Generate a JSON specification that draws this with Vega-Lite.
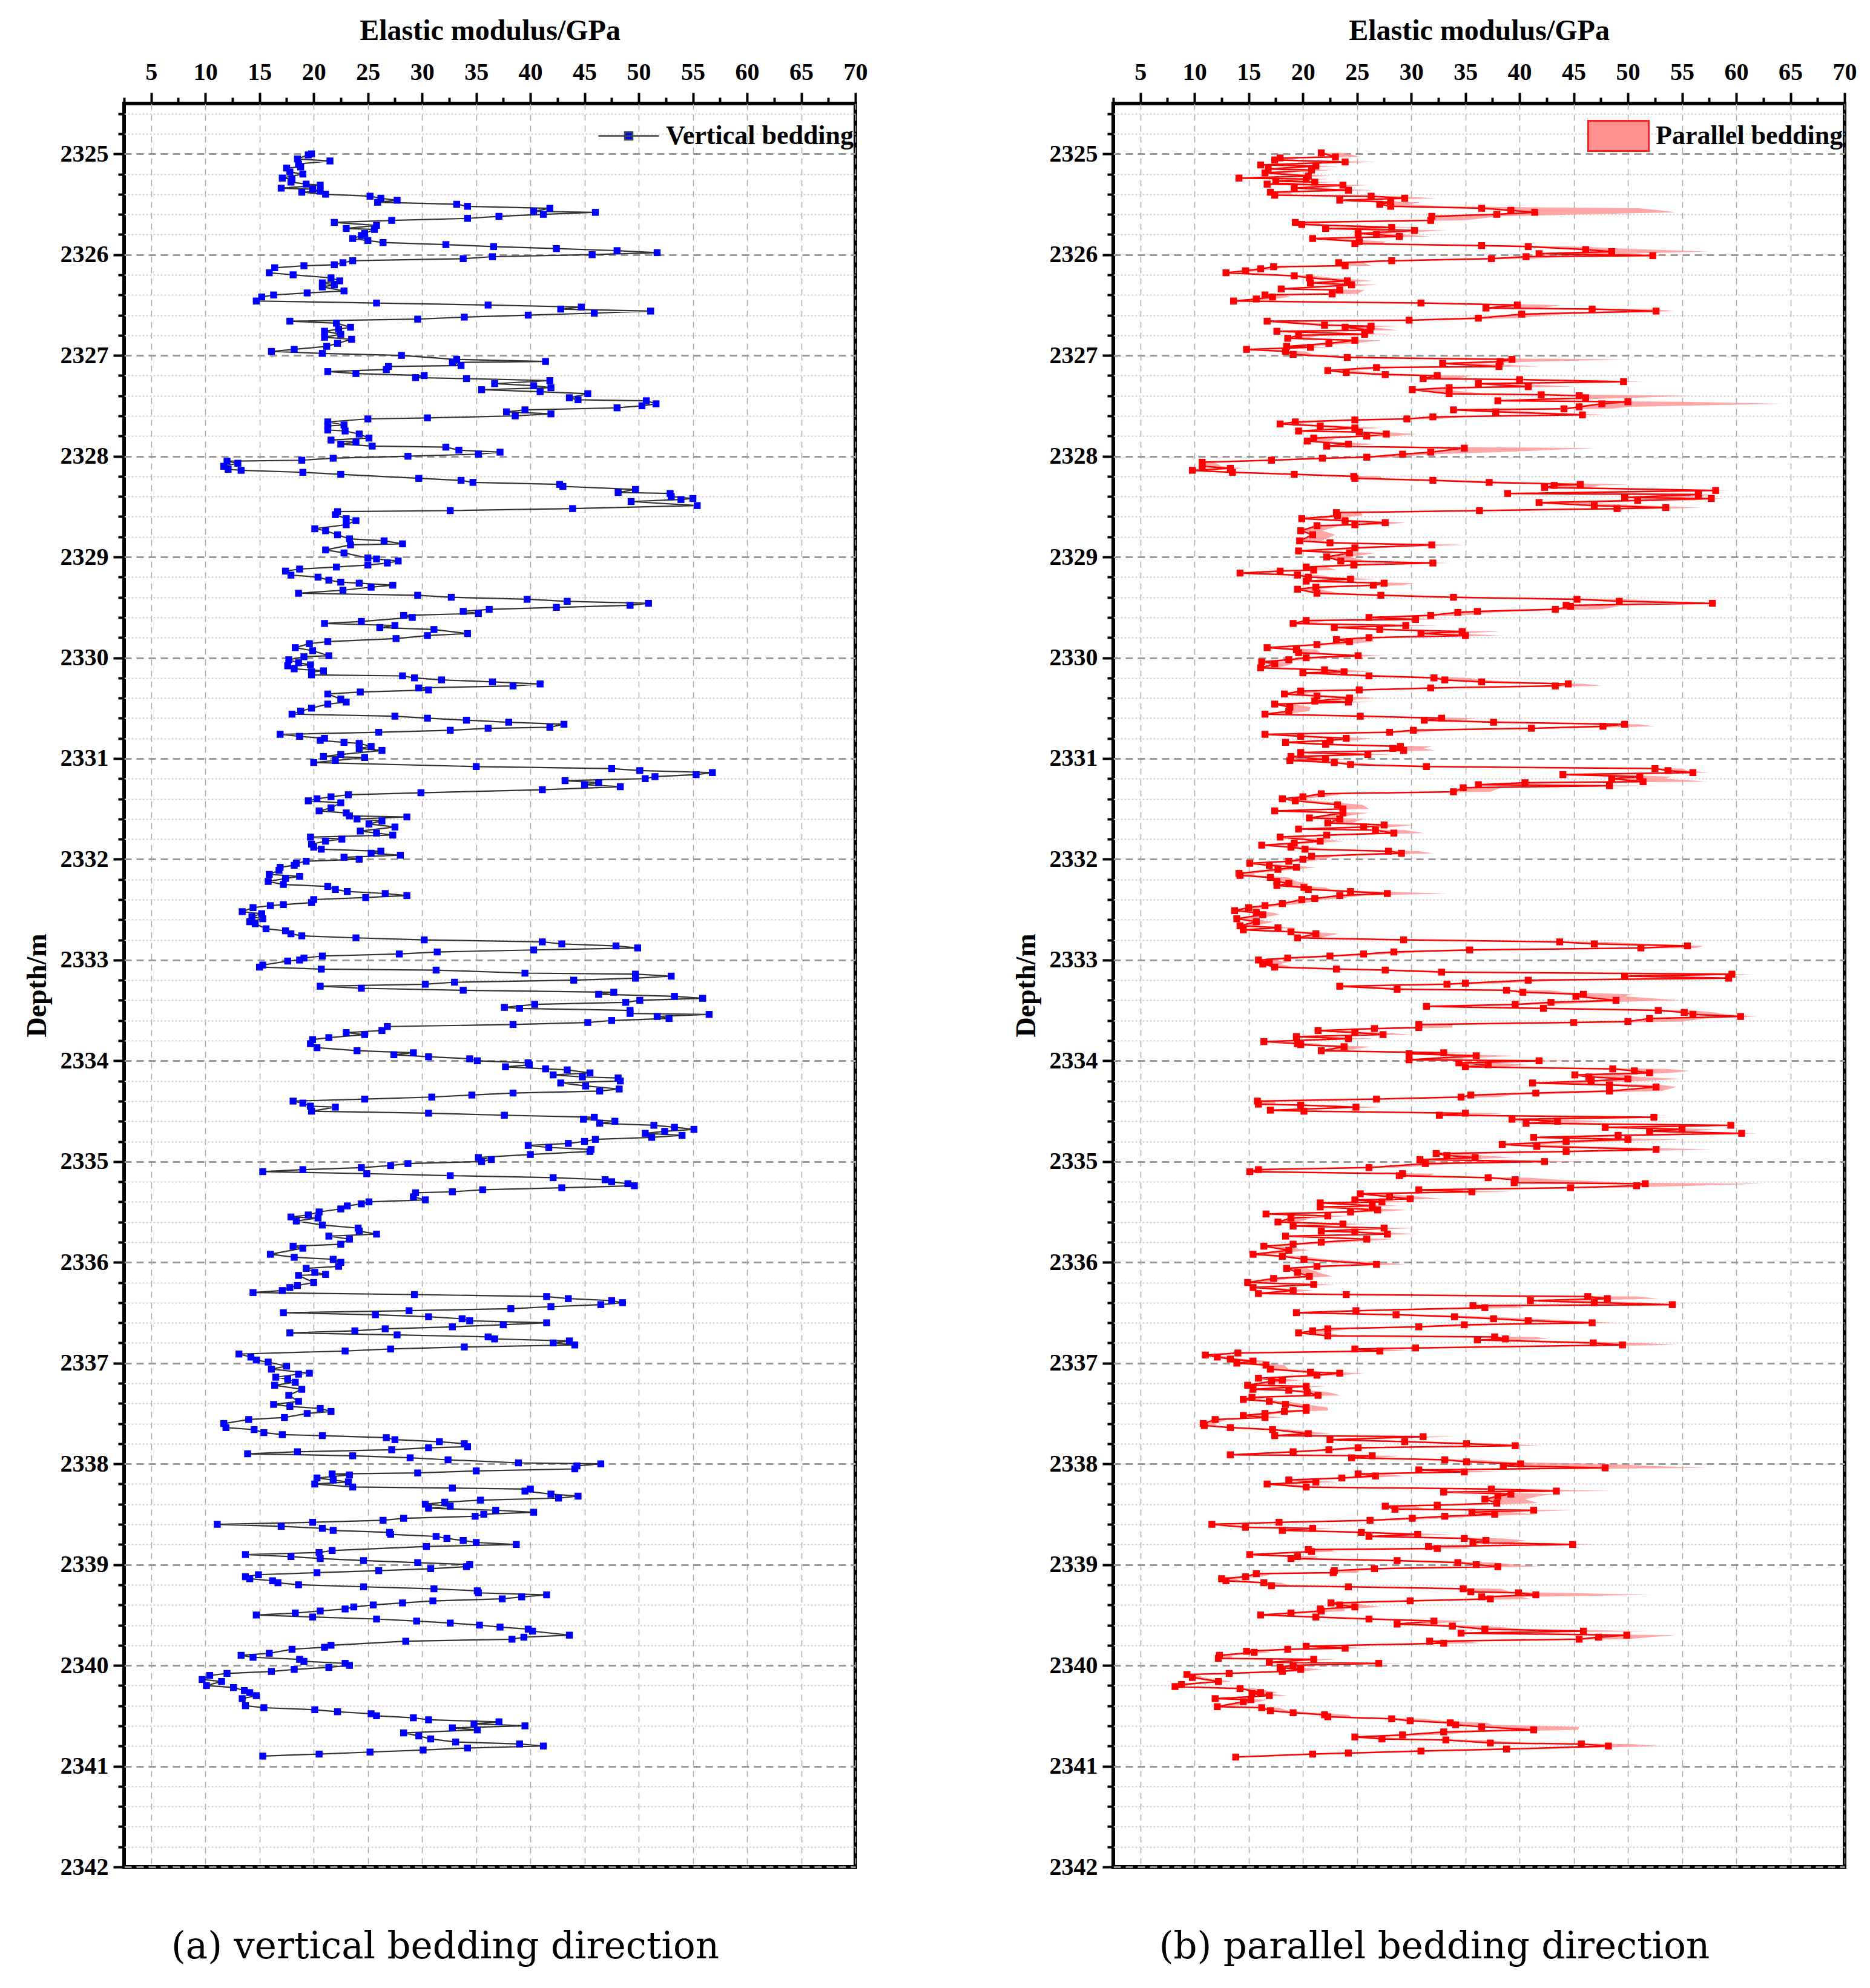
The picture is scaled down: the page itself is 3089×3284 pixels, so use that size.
{
  "$schema": "https://vega.github.io/schema/vega-lite/v6.json",
  "background": "white",
  "padding": {"left": 35, "top": 24, "right": 8, "bottom": 10},
  "spacing": 233,
  "resolve": {"scale": {"color": "independent"}, "legend": {"color": "independent"}},
  "datasets": {
    "va": [
      {"d":2325.00,"e":19.8},{"d":2325.01,"e":19.5},{"d":2325.05,"e":18.5},{"d":2325.07,"e":21.5},{"d":2325.10,"e":18.6},{"d":2325.13,"e":18.8},{"d":2325.14,"e":17.5},{"d":2325.18,"e":17.8},{"d":2325.20,"e":19.0},{"d":2325.24,"e":17.1},
      {"d":2325.25,"e":18.0},{"d":2325.28,"e":17.9},{"d":2325.30,"e":19.3},{"d":2325.31,"e":20.6},{"d":2325.34,"e":17.0},{"d":2325.35,"e":19.9},{"d":2325.37,"e":20.6},{"d":2325.38,"e":18.9},{"d":2325.40,"e":21.1},{"d":2325.42,"e":25.2},
      {"d":2325.44,"e":26.2},{"d":2325.46,"e":27.7},{"d":2325.48,"e":25.9},{"d":2325.50,"e":33.2},{"d":2325.52,"e":34.2},{"d":2325.54,"e":41.8},{"d":2325.57,"e":40.3},{"d":2325.58,"e":46.0},{"d":2325.60,"e":41.2},{"d":2325.62,"e":37.1},
      {"d":2325.64,"e":34.2},{"d":2325.66,"e":27.2},{"d":2325.68,"e":21.9},{"d":2325.71,"e":25.8},{"d":2325.74,"e":23.0},{"d":2325.75,"e":25.6},{"d":2325.79,"e":24.7},{"d":2325.81,"e":24.4},{"d":2325.84,"e":23.6},{"d":2325.86,"e":25.0},
      {"d":2325.88,"e":26.4},{"d":2325.90,"e":32.2},{"d":2325.92,"e":36.6},{"d":2325.94,"e":42.4},{"d":2325.96,"e":48.0},{"d":2325.98,"e":51.7},{"d":2326.00,"e":45.7},{"d":2326.02,"e":36.5},{"d":2326.04,"e":33.8},{"d":2326.06,"e":23.6},
      {"d":2326.08,"e":22.7},{"d":2326.10,"e":21.9},{"d":2326.11,"e":19.1},{"d":2326.13,"e":16.4},{"d":2326.18,"e":15.9},{"d":2326.20,"e":18.1},{"d":2326.23,"e":21.6},{"d":2326.26,"e":22.4},{"d":2326.28,"e":20.8},{"d":2326.30,"e":21.9},
      {"d":2326.32,"e":20.8},{"d":2326.36,"e":22.8},{"d":2326.38,"e":19.4},{"d":2326.40,"e":16.3},{"d":2326.42,"e":15.2},{"d":2326.46,"e":14.7},{"d":2326.48,"e":25.8},{"d":2326.50,"e":36.1},{"d":2326.52,"e":44.7},{"d":2326.54,"e":42.8},
      {"d":2326.56,"e":51.1},{"d":2326.58,"e":45.9},{"d":2326.60,"e":39.8},{"d":2326.62,"e":33.9},{"d":2326.64,"e":29.6},{"d":2326.66,"e":17.8},{"d":2326.68,"e":22.1},{"d":2326.72,"e":23.4},{"d":2326.74,"e":22.3},{"d":2326.76,"e":21.0},
      {"d":2326.79,"e":22.5},{"d":2326.82,"e":21.0},{"d":2326.84,"e":23.5},{"d":2326.88,"e":22.2},{"d":2326.91,"e":21.2},{"d":2326.94,"e":18.2},{"d":2326.96,"e":16.1},{"d":2326.98,"e":20.8},{"d":2327.00,"e":28.1},{"d":2327.04,"e":33.2},
      {"d":2327.06,"e":41.4},{"d":2327.07,"e":32.8},{"d":2327.10,"e":33.6},{"d":2327.11,"e":26.9},{"d":2327.14,"e":26.7},{"d":2327.16,"e":21.3},{"d":2327.18,"e":23.9},{"d":2327.20,"e":30.2},{"d":2327.22,"e":29.4},{"d":2327.23,"e":34.1},
      {"d":2327.25,"e":41.8},{"d":2327.28,"e":36.7},{"d":2327.30,"e":40.3},{"d":2327.32,"e":41.9},{"d":2327.34,"e":35.5},{"d":2327.36,"e":40.9},{"d":2327.38,"e":45.3},{"d":2327.42,"e":43.6},{"d":2327.44,"e":44.4},{"d":2327.45,"e":50.7},
      {"d":2327.48,"e":51.6},{"d":2327.50,"e":50.3},{"d":2327.52,"e":48.0},{"d":2327.54,"e":39.5},{"d":2327.56,"e":37.8},{"d":2327.58,"e":41.9},{"d":2327.60,"e":38.6},{"d":2327.62,"e":30.5},{"d":2327.63,"e":25.0},{"d":2327.66,"e":21.3},
      {"d":2327.69,"e":22.8},{"d":2327.70,"e":21.3},{"d":2327.74,"e":21.3},{"d":2327.75,"e":22.9},{"d":2327.78,"e":24.2},{"d":2327.82,"e":25.1},{"d":2327.84,"e":21.6},{"d":2327.86,"e":23.9},{"d":2327.88,"e":22.5},{"d":2327.90,"e":25.4},
      {"d":2327.91,"e":32.2},{"d":2327.94,"e":33.4},{"d":2327.96,"e":37.2},{"d":2327.98,"e":35.2},{"d":2328.00,"e":28.7},{"d":2328.02,"e":21.8},{"d":2328.04,"e":18.9},{"d":2328.05,"e":12.0},{"d":2328.07,"e":13.0},{"d":2328.10,"e":11.7},
      {"d":2328.13,"e":12.1},{"d":2328.14,"e":13.3},{"d":2328.16,"e":19.0},{"d":2328.18,"e":22.5},{"d":2328.22,"e":29.7},{"d":2328.24,"e":33.6},{"d":2328.26,"e":34.7},{"d":2328.28,"e":42.7},{"d":2328.30,"e":43.0},{"d":2328.33,"e":49.7},
      {"d":2328.36,"e":48.1},{"d":2328.37,"e":52.9},{"d":2328.40,"e":53.0},{"d":2328.42,"e":55.0},{"d":2328.43,"e":53.9},{"d":2328.45,"e":49.3},{"d":2328.49,"e":55.4},{"d":2328.52,"e":43.9},{"d":2328.54,"e":32.6},{"d":2328.55,"e":22.2},
      {"d":2328.58,"e":22.0},{"d":2328.62,"e":23.0},{"d":2328.64,"e":23.9},{"d":2328.68,"e":23.0},{"d":2328.72,"e":20.1},{"d":2328.74,"e":21.1},{"d":2328.78,"e":22.2},{"d":2328.82,"e":23.3},{"d":2328.84,"e":26.5},{"d":2328.87,"e":28.2},
      {"d":2328.88,"e":23.4},{"d":2328.93,"e":21.1},{"d":2328.96,"e":22.8},{"d":2329.01,"e":25.0},{"d":2329.02,"e":25.8},{"d":2329.04,"e":27.8},{"d":2329.06,"e":26.8},{"d":2329.08,"e":25.0},{"d":2329.10,"e":22.1},{"d":2329.12,"e":18.7},
      {"d":2329.14,"e":17.4},{"d":2329.18,"e":17.9},{"d":2329.20,"e":20.4},{"d":2329.23,"e":21.4},{"d":2329.25,"e":22.5},{"d":2329.26,"e":24.2},{"d":2329.28,"e":27.3},{"d":2329.30,"e":25.3},{"d":2329.33,"e":22.7},{"d":2329.36,"e":18.6},
      {"d":2329.38,"e":29.6},{"d":2329.40,"e":32.7},{"d":2329.42,"e":39.7},{"d":2329.44,"e":43.4},{"d":2329.46,"e":50.9},{"d":2329.48,"e":49.2},{"d":2329.50,"e":42.4},{"d":2329.52,"e":36.2},{"d":2329.54,"e":33.8},{"d":2329.56,"e":35.2},
      {"d":2329.58,"e":28.3},{"d":2329.60,"e":29.1},{"d":2329.64,"e":24.4},{"d":2329.66,"e":21.0},{"d":2329.68,"e":27.5},{"d":2329.70,"e":26.1},{"d":2329.72,"e":31.1},{"d":2329.76,"e":34.2},{"d":2329.78,"e":30.5},{"d":2329.81,"e":27.6},
      {"d":2329.84,"e":21.3},{"d":2329.86,"e":19.6},{"d":2329.90,"e":18.3},{"d":2329.93,"e":19.9},{"d":2329.98,"e":21.4},{"d":2329.99,"e":19.1},{"d":2330.02,"e":17.7},{"d":2330.05,"e":18.6},{"d":2330.07,"e":19.7},{"d":2330.08,"e":17.6},
      {"d":2330.11,"e":18.2},{"d":2330.13,"e":20.9},{"d":2330.14,"e":19.8},{"d":2330.17,"e":19.8},{"d":2330.18,"e":28.2},{"d":2330.20,"e":29.3},{"d":2330.22,"e":31.8},{"d":2330.24,"e":36.5},{"d":2330.26,"e":40.9},{"d":2330.28,"e":38.4},
      {"d":2330.30,"e":29.7},{"d":2330.32,"e":30.6},{"d":2330.34,"e":24.3},{"d":2330.36,"e":21.3},{"d":2330.41,"e":22.5},{"d":2330.44,"e":23.0},{"d":2330.46,"e":21.3},{"d":2330.50,"e":19.8},{"d":2330.53,"e":18.8},{"d":2330.56,"e":18.0},
      {"d":2330.58,"e":27.5},{"d":2330.60,"e":30.5},{"d":2330.62,"e":34.1},{"d":2330.64,"e":38.0},{"d":2330.66,"e":43.1},{"d":2330.69,"e":41.8},{"d":2330.70,"e":36.1},{"d":2330.72,"e":32.6},{"d":2330.74,"e":26.0},{"d":2330.76,"e":16.9},
      {"d":2330.78,"e":18.7},{"d":2330.80,"e":21.0},{"d":2330.82,"e":20.6},{"d":2330.84,"e":22.8},{"d":2330.85,"e":24.2},{"d":2330.88,"e":25.3},{"d":2330.90,"e":24.2},{"d":2330.92,"e":26.3},{"d":2330.96,"e":22.5},{"d":2330.98,"e":20.9},
      {"d":2330.99,"e":24.7},{"d":2331.02,"e":22.0},{"d":2331.04,"e":20.0},{"d":2331.08,"e":35.0},{"d":2331.10,"e":47.5},{"d":2331.12,"e":50.1},{"d":2331.14,"e":56.8},{"d":2331.16,"e":55.3},{"d":2331.18,"e":51.5},{"d":2331.20,"e":50.6},
      {"d":2331.22,"e":43.2},{"d":2331.24,"e":46.3},{"d":2331.26,"e":45.0},{"d":2331.28,"e":48.3},{"d":2331.31,"e":41.1},{"d":2331.34,"e":29.9},{"d":2331.36,"e":23.2},{"d":2331.38,"e":21.6},{"d":2331.40,"e":20.3},{"d":2331.42,"e":19.5},
      {"d":2331.44,"e":22.5},{"d":2331.49,"e":21.6},{"d":2331.52,"e":20.5},{"d":2331.54,"e":23.0},{"d":2331.57,"e":23.3},{"d":2331.58,"e":28.6},{"d":2331.60,"e":24.0},{"d":2331.62,"e":26.3},{"d":2331.65,"e":25.1},{"d":2331.68,"e":27.5},
      {"d":2331.72,"e":24.3},{"d":2331.74,"e":25.8},{"d":2331.76,"e":27.3},{"d":2331.78,"e":19.7},{"d":2331.80,"e":22.6},{"d":2331.82,"e":21.1},{"d":2331.85,"e":19.8},{"d":2331.88,"e":20.0},{"d":2331.90,"e":20.7},{"d":2331.92,"e":26.2},
      {"d":2331.94,"e":25.3},{"d":2331.96,"e":28.0},{"d":2331.98,"e":22.8},{"d":2332.00,"e":24.2},{"d":2332.02,"e":19.3},{"d":2332.04,"e":18.4},{"d":2332.06,"e":18.2},{"d":2332.08,"e":16.9},{"d":2332.11,"e":16.8},{"d":2332.15,"e":15.9},
      {"d":2332.17,"e":18.7},{"d":2332.19,"e":17.4},{"d":2332.22,"e":15.8},{"d":2332.25,"e":17.2},{"d":2332.27,"e":21.3},{"d":2332.30,"e":22.0},{"d":2332.32,"e":23.1},{"d":2332.34,"e":26.6},{"d":2332.36,"e":28.6},{"d":2332.38,"e":24.8},
      {"d":2332.40,"e":20.0},{"d":2332.43,"e":19.8},{"d":2332.45,"e":17.2},{"d":2332.46,"e":16.0},{"d":2332.48,"e":14.4},{"d":2332.52,"e":13.4},{"d":2332.54,"e":15.2},{"d":2332.57,"e":14.3},{"d":2332.59,"e":15.3},{"d":2332.62,"e":14.1},
      {"d":2332.64,"e":14.6},{"d":2332.69,"e":15.6},{"d":2332.71,"e":17.4},{"d":2332.74,"e":17.9},{"d":2332.76,"e":18.9},{"d":2332.78,"e":23.9},{"d":2332.80,"e":30.2},{"d":2332.82,"e":41.1},{"d":2332.84,"e":42.9},{"d":2332.86,"e":47.9},
      {"d":2332.88,"e":49.9},{"d":2332.90,"e":40.3},{"d":2332.92,"e":31.4},{"d":2332.94,"e":27.9},{"d":2332.96,"e":20.8},{"d":2332.98,"e":19.1},{"d":2333.00,"e":18.7},{"d":2333.01,"e":17.6},{"d":2333.05,"e":15.3},{"d":2333.07,"e":15.0},
      {"d":2333.09,"e":20.7},{"d":2333.10,"e":31.3},{"d":2333.13,"e":39.5},{"d":2333.14,"e":49.7},{"d":2333.16,"e":53.0},{"d":2333.18,"e":49.7},{"d":2333.20,"e":44.0},{"d":2333.22,"e":33.0},{"d":2333.24,"e":30.3},{"d":2333.26,"e":20.6},
      {"d":2333.28,"e":24.4},{"d":2333.30,"e":33.8},{"d":2333.32,"e":47.7},{"d":2333.34,"e":46.3},{"d":2333.36,"e":53.3},{"d":2333.38,"e":55.9},{"d":2333.40,"e":50.1},{"d":2333.42,"e":48.8},{"d":2333.44,"e":40.4},{"d":2333.47,"e":37.6},
      {"d":2333.48,"e":39.0},{"d":2333.50,"e":49.2},{"d":2333.53,"e":49.2},{"d":2333.54,"e":56.5},{"d":2333.56,"e":51.7},{"d":2333.58,"e":52.8},{"d":2333.60,"e":47.5},{"d":2333.62,"e":45.3},{"d":2333.64,"e":38.4},{"d":2333.66,"e":26.8},
      {"d":2333.70,"e":26.3},{"d":2333.72,"e":23.0},{"d":2333.74,"e":24.7},{"d":2333.77,"e":21.4},{"d":2333.79,"e":19.9},{"d":2333.83,"e":19.7},{"d":2333.87,"e":20.3},{"d":2333.90,"e":24.0},{"d":2333.92,"e":29.2},{"d":2333.94,"e":27.4},
      {"d":2333.96,"e":30.6},{"d":2333.98,"e":34.4},{"d":2334.00,"e":35.1},{"d":2334.02,"e":39.8},{"d":2334.04,"e":39.9},{"d":2334.06,"e":37.7},{"d":2334.08,"e":41.4},{"d":2334.09,"e":43.4},{"d":2334.12,"e":45.5},{"d":2334.14,"e":42.1},
      {"d":2334.16,"e":44.8},{"d":2334.17,"e":48.1},{"d":2334.20,"e":48.3},{"d":2334.22,"e":42.8},{"d":2334.25,"e":45.1},{"d":2334.28,"e":48.2},{"d":2334.30,"e":46.4},{"d":2334.32,"e":38.4},{"d":2334.34,"e":34.6},{"d":2334.36,"e":30.9},
      {"d":2334.38,"e":24.7},{"d":2334.40,"e":18.1},{"d":2334.42,"e":19.0},{"d":2334.45,"e":19.7},{"d":2334.46,"e":22.0},{"d":2334.50,"e":19.8},{"d":2334.52,"e":30.6},{"d":2334.54,"e":37.6},{"d":2334.56,"e":45.9},{"d":2334.58,"e":44.9},
      {"d":2334.60,"e":47.8},{"d":2334.62,"e":46.4},{"d":2334.64,"e":51.4},{"d":2334.66,"e":53.3},{"d":2334.68,"e":55.1},{"d":2334.70,"e":52.4},{"d":2334.72,"e":50.6},{"d":2334.74,"e":54.0},{"d":2334.76,"e":51.2},{"d":2334.78,"e":46.0},
      {"d":2334.80,"e":45.0},{"d":2334.82,"e":43.5},{"d":2334.84,"e":39.8},{"d":2334.86,"e":41.7},{"d":2334.88,"e":45.6},{"d":2334.90,"e":45.5},{"d":2334.93,"e":40.0},{"d":2334.96,"e":35.2},{"d":2334.98,"e":36.4},{"d":2335.00,"e":35.5},
      {"d":2335.02,"e":28.7},{"d":2335.04,"e":27.1},{"d":2335.06,"e":24.4},{"d":2335.08,"e":19.0},{"d":2335.10,"e":15.3},{"d":2335.12,"e":24.9},{"d":2335.14,"e":32.6},{"d":2335.16,"e":42.1},{"d":2335.18,"e":46.9},{"d":2335.20,"e":47.5},
      {"d":2335.22,"e":49.0},{"d":2335.24,"e":49.6},{"d":2335.26,"e":42.9},{"d":2335.28,"e":35.6},{"d":2335.30,"e":32.8},{"d":2335.31,"e":29.4},{"d":2335.35,"e":29.2},{"d":2335.38,"e":30.3},{"d":2335.40,"e":25.1},{"d":2335.42,"e":24.4},
      {"d":2335.44,"e":23.1},{"d":2335.47,"e":22.5},{"d":2335.50,"e":20.5},{"d":2335.53,"e":19.5},{"d":2335.55,"e":17.9},{"d":2335.56,"e":20.4},{"d":2335.59,"e":18.4},{"d":2335.63,"e":20.8},{"d":2335.66,"e":24.1},{"d":2335.69,"e":24.2},
      {"d":2335.72,"e":25.8},{"d":2335.74,"e":21.4},{"d":2335.77,"e":23.3},{"d":2335.82,"e":22.5},{"d":2335.84,"e":18.1},{"d":2335.86,"e":19.0},{"d":2335.92,"e":16.0},{"d":2335.95,"e":18.2},{"d":2335.97,"e":21.8},{"d":2336.00,"e":22.5},
      {"d":2336.04,"e":22.3},{"d":2336.06,"e":19.3},{"d":2336.10,"e":20.1},{"d":2336.12,"e":21.1},{"d":2336.13,"e":18.6},{"d":2336.20,"e":20.0},{"d":2336.23,"e":18.5},{"d":2336.25,"e":17.8},{"d":2336.28,"e":17.1},{"d":2336.30,"e":14.4},
      {"d":2336.32,"e":29.3},{"d":2336.34,"e":41.5},{"d":2336.36,"e":43.5},{"d":2336.38,"e":47.5},{"d":2336.40,"e":48.5},{"d":2336.42,"e":46.5},{"d":2336.44,"e":41.9},{"d":2336.46,"e":38.2},{"d":2336.48,"e":28.8},{"d":2336.50,"e":17.2},
      {"d":2336.52,"e":25.7},{"d":2336.54,"e":30.6},{"d":2336.56,"e":33.7},{"d":2336.58,"e":34.4},{"d":2336.60,"e":41.5},{"d":2336.62,"e":37.5},{"d":2336.64,"e":32.8},{"d":2336.66,"e":26.6},{"d":2336.68,"e":23.8},{"d":2336.70,"e":17.8},
      {"d":2336.72,"e":27.7},{"d":2336.74,"e":36.1},{"d":2336.76,"e":36.7},{"d":2336.78,"e":43.6},{"d":2336.80,"e":42.1},{"d":2336.82,"e":44.1},{"d":2336.84,"e":33.9},{"d":2336.86,"e":27.1},{"d":2336.88,"e":22.9},{"d":2336.91,"e":13.1},
      {"d":2336.94,"e":14.2},{"d":2336.97,"e":14.7},{"d":2336.99,"e":15.8},{"d":2337.03,"e":17.5},{"d":2337.06,"e":16.1},{"d":2337.10,"e":19.6},{"d":2337.11,"e":18.6},{"d":2337.14,"e":16.5},{"d":2337.16,"e":17.6},{"d":2337.19,"e":18.3},
      {"d":2337.22,"e":16.4},{"d":2337.26,"e":18.9},{"d":2337.32,"e":17.7},{"d":2337.38,"e":18.6},{"d":2337.41,"e":16.3},{"d":2337.43,"e":17.8},{"d":2337.45,"e":20.6},{"d":2337.48,"e":21.6},{"d":2337.50,"e":19.4},{"d":2337.54,"e":17.3},
      {"d":2337.56,"e":14.0},{"d":2337.60,"e":11.7},{"d":2337.64,"e":11.9},{"d":2337.66,"e":14.5},{"d":2337.69,"e":15.4},{"d":2337.71,"e":17.1},{"d":2337.72,"e":20.8},{"d":2337.74,"e":26.7},{"d":2337.76,"e":27.5},{"d":2337.78,"e":31.6},
      {"d":2337.80,"e":33.9},{"d":2337.83,"e":34.2},{"d":2337.84,"e":30.6},{"d":2337.86,"e":27.2},{"d":2337.88,"e":18.5},{"d":2337.90,"e":13.9},{"d":2337.92,"e":23.6},{"d":2337.94,"e":28.9},{"d":2337.96,"e":32.4},{"d":2337.99,"e":38.9},
      {"d":2338.00,"e":46.5},{"d":2338.02,"e":44.3},{"d":2338.05,"e":44.1},{"d":2338.07,"e":35.0},{"d":2338.09,"e":29.6},{"d":2338.10,"e":21.7},{"d":2338.11,"e":23.3},{"d":2338.14,"e":20.3},{"d":2338.16,"e":21.8},{"d":2338.18,"e":23.2},
      {"d":2338.20,"e":20.1},{"d":2338.23,"e":23.6},{"d":2338.24,"e":32.8},{"d":2338.25,"e":40.0},{"d":2338.27,"e":39.5},{"d":2338.30,"e":41.9},{"d":2338.32,"e":44.4},{"d":2338.34,"e":42.6},{"d":2338.36,"e":35.4},{"d":2338.38,"e":32.1},
      {"d":2338.40,"e":30.3},{"d":2338.42,"e":32.6},{"d":2338.44,"e":30.6},{"d":2338.46,"e":36.8},{"d":2338.48,"e":40.3},{"d":2338.50,"e":35.7},{"d":2338.52,"e":34.9},{"d":2338.54,"e":28.3},{"d":2338.56,"e":26.4},{"d":2338.58,"e":19.9},
      {"d":2338.60,"e":11.1},{"d":2338.62,"e":17.0},{"d":2338.64,"e":20.8},{"d":2338.66,"e":21.8},{"d":2338.68,"e":27.0},{"d":2338.70,"e":27.1},{"d":2338.72,"e":31.3},{"d":2338.74,"e":32.3},{"d":2338.76,"e":33.8},{"d":2338.78,"e":35.0},
      {"d":2338.80,"e":38.7},{"d":2338.82,"e":30.4},{"d":2338.86,"e":21.7},{"d":2338.88,"e":20.5},{"d":2338.90,"e":13.7},{"d":2338.92,"e":17.9},{"d":2338.94,"e":20.6},{"d":2338.96,"e":24.6},{"d":2338.98,"e":29.6},{"d":2339.00,"e":34.4},
      {"d":2339.02,"e":34.1},{"d":2339.04,"e":30.8},{"d":2339.06,"e":26.0},{"d":2339.08,"e":20.3},{"d":2339.10,"e":14.9},{"d":2339.12,"e":13.7},{"d":2339.14,"e":14.1},{"d":2339.16,"e":16.2},{"d":2339.18,"e":16.7},{"d":2339.20,"e":18.6},
      {"d":2339.22,"e":24.6},{"d":2339.24,"e":31.1},{"d":2339.26,"e":35.1},{"d":2339.28,"e":35.2},{"d":2339.30,"e":41.5},{"d":2339.32,"e":39.2},{"d":2339.34,"e":37.4},{"d":2339.36,"e":31.0},{"d":2339.38,"e":28.2},{"d":2339.40,"e":25.5},
      {"d":2339.42,"e":23.7},{"d":2339.44,"e":22.9},{"d":2339.46,"e":20.6},{"d":2339.48,"e":18.3},{"d":2339.50,"e":14.7},{"d":2339.52,"e":19.9},{"d":2339.54,"e":25.8},{"d":2339.56,"e":29.5},{"d":2339.58,"e":32.6},{"d":2339.60,"e":35.3},
      {"d":2339.62,"e":37.2},{"d":2339.64,"e":39.8},{"d":2339.66,"e":40.2},{"d":2339.70,"e":43.6},{"d":2339.72,"e":39.4},{"d":2339.74,"e":38.3},{"d":2339.76,"e":28.5},{"d":2339.80,"e":21.6},{"d":2339.82,"e":21.0},{"d":2339.84,"e":18.0},
      {"d":2339.88,"e":15.9},{"d":2339.90,"e":13.3},{"d":2339.92,"e":14.4},{"d":2339.94,"e":18.7},{"d":2339.96,"e":19.1},{"d":2339.98,"e":22.9},{"d":2340.00,"e":23.3},{"d":2340.02,"e":21.4},{"d":2340.04,"e":18.2},{"d":2340.06,"e":16.1},
      {"d":2340.08,"e":12.0},{"d":2340.10,"e":10.4},{"d":2340.14,"e":9.7},{"d":2340.16,"e":11.5},{"d":2340.20,"e":10.1},{"d":2340.22,"e":12.6},{"d":2340.25,"e":13.6},{"d":2340.27,"e":14.1},{"d":2340.30,"e":14.7},{"d":2340.33,"e":13.4},
      {"d":2340.40,"e":13.7},{"d":2340.42,"e":15.4},{"d":2340.44,"e":20.1},{"d":2340.46,"e":22.2},{"d":2340.48,"e":25.3},{"d":2340.50,"e":25.8},{"d":2340.52,"e":29.2},{"d":2340.54,"e":30.6},{"d":2340.56,"e":37.1},{"d":2340.58,"e":34.8},
      {"d":2340.60,"e":39.5},{"d":2340.62,"e":32.8},{"d":2340.64,"e":35.1},{"d":2340.67,"e":28.3},{"d":2340.70,"e":29.7},{"d":2340.73,"e":30.8},{"d":2340.76,"e":33.1},{"d":2340.78,"e":39.0},{"d":2340.80,"e":41.2},{"d":2340.82,"e":34.2},
      {"d":2340.84,"e":30.1},{"d":2340.86,"e":25.2},{"d":2340.88,"e":20.5},{"d":2340.90,"e":15.3}
    ],
    "vb": [
      {"d":2324.99,"e":21.7,"u":23.9},{"d":2325.03,"e":23.0,"u":25.3},{"d":2325.04,"e":17.9,"u":19.7},{"d":2325.06,"e":17.4,"u":19.1},{"d":2325.08,"e":23.9,"u":26.8},{"d":2325.11,"e":16.1,"u":17.7},{"d":2325.12,"e":21.2,"u":23.3},{"d":2325.15,"e":16.8,"u":18.5},{"d":2325.16,"e":20.8,"u":22.9},{"d":2325.19,"e":16.5,"u":18.2},
      {"d":2325.22,"e":20.5,"u":22.6},{"d":2325.24,"e":14.1,"u":15.5},{"d":2325.25,"e":20.3,"u":22.3},{"d":2325.27,"e":17.5,"u":19.3},{"d":2325.28,"e":21.1,"u":23.2},{"d":2325.30,"e":16.7,"u":18.4},{"d":2325.31,"e":23.7,"u":26.1},{"d":2325.34,"e":19.2,"u":21.1},{"d":2325.36,"e":24.2,"u":26.6},{"d":2325.38,"e":17.0,"u":18.7},
      {"d":2325.41,"e":17.4,"u":19.1},{"d":2325.42,"e":26.3,"u":28.9},{"d":2325.44,"e":29.4,"u":32.3},{"d":2325.46,"e":23.4,"u":25.7},{"d":2325.48,"e":28.1,"u":30.9},{"d":2325.50,"e":27.1,"u":29.8},{"d":2325.52,"e":28.1,"u":33.0},{"d":2325.54,"e":36.5,"u":51.0},{"d":2325.56,"e":39.2,"u":53.0},{"d":2325.58,"e":41.4,"u":54.4},
      {"d":2325.60,"e":37.9,"u":46.0},{"d":2325.62,"e":31.9,"u":38.0},{"d":2325.66,"e":31.8,"u":35.0},{"d":2325.68,"e":19.3,"u":21.2},{"d":2325.70,"e":19.9,"u":21.9},{"d":2325.73,"e":28.2,"u":31.0},{"d":2325.74,"e":22.1,"u":24.3},{"d":2325.76,"e":30.3,"u":33.3},{"d":2325.79,"e":25.1,"u":27.6},{"d":2325.80,"e":26.8,"u":29.5},
      {"d":2325.82,"e":28.9,"u":31.8},{"d":2325.84,"e":20.9,"u":23.0},{"d":2325.87,"e":25.2,"u":27.7},{"d":2325.89,"e":24.8,"u":27.3},{"d":2325.91,"e":36.5,"u":40.2},{"d":2325.92,"e":40.8,"u":44.9},{"d":2325.95,"e":46.1,"u":52.0},{"d":2325.97,"e":48.5,"u":57.4},{"d":2325.99,"e":41.8,"u":50.0},{"d":2326.01,"e":52.3,"u":54.0},
      {"d":2326.02,"e":40.6,"u":44.7},{"d":2326.04,"e":37.4,"u":41.1},{"d":2326.06,"e":28.2,"u":31.0},{"d":2326.08,"e":23.3,"u":25.6},{"d":2326.11,"e":23.9,"u":26.3},{"d":2326.12,"e":17.3,"u":19.0},{"d":2326.14,"e":16.1,"u":17.7},{"d":2326.16,"e":14.7,"u":16.2},{"d":2326.18,"e":12.9,"u":14.2},{"d":2326.21,"e":19.2,"u":21.1},
      {"d":2326.23,"e":20.6,"u":22.7},{"d":2326.26,"e":24.1,"u":26.5},{"d":2326.28,"e":20.7,"u":22.8},{"d":2326.30,"e":24.5,"u":26.9},{"d":2326.34,"e":18.0,"u":19.8},{"d":2326.35,"e":23.4,"u":25.7},{"d":2326.39,"e":22.7,"u":25.0},{"d":2326.40,"e":16.5,"u":18.2},{"d":2326.42,"e":17.2,"u":18.9},{"d":2326.44,"e":15.7,"u":17.3},
      {"d":2326.46,"e":13.6,"u":15.0},{"d":2326.48,"e":30.9,"u":34.0},{"d":2326.50,"e":39.8,"u":43.8},{"d":2326.53,"e":36.9,"u":42.0},{"d":2326.54,"e":46.7,"u":52.5},{"d":2326.56,"e":52.6,"u":54.2},{"d":2326.59,"e":40.2,"u":44.2},{"d":2326.63,"e":36.2,"u":39.8},{"d":2326.65,"e":29.8,"u":32.8},{"d":2326.66,"e":16.7,"u":18.4},
      {"d":2326.70,"e":22.0,"u":24.2},{"d":2326.71,"e":26.3,"u":28.9},{"d":2326.72,"e":23.9,"u":26.3},{"d":2326.75,"e":26.2,"u":28.8},{"d":2326.76,"e":17.6,"u":19.4},{"d":2326.79,"e":25.7,"u":28.3},{"d":2326.80,"e":19.6,"u":21.6},{"d":2326.83,"e":18.6,"u":20.5},{"d":2326.85,"e":24.8,"u":27.3},{"d":2326.88,"e":22.4,"u":24.6},
      {"d":2326.91,"e":18.5,"u":20.4},{"d":2326.92,"e":20.7,"u":22.8},{"d":2326.94,"e":14.8,"u":16.3},{"d":2326.96,"e":18.4,"u":20.2},{"d":2326.99,"e":19.1,"u":21.0},{"d":2327.02,"e":24.1,"u":26.5},{"d":2327.04,"e":39.3,"u":50.0},{"d":2327.06,"e":38.2,"u":42.0},{"d":2327.08,"e":32.9,"u":36.2},{"d":2327.11,"e":38.1,"u":41.9},
      {"d":2327.12,"e":26.8,"u":29.5},{"d":2327.15,"e":22.3,"u":24.5},{"d":2327.17,"e":24.0,"u":26.4},{"d":2327.19,"e":27.6,"u":30.4},{"d":2327.20,"e":32.4,"u":35.6},{"d":2327.23,"e":31.1,"u":34.2},{"d":2327.24,"e":40.0,"u":44.0},{"d":2327.26,"e":49.6,"u":51.5},{"d":2327.28,"e":36.2,"u":39.8},{"d":2327.31,"e":40.8,"u":44.9},
      {"d":2327.32,"e":33.5,"u":36.9},{"d":2327.34,"e":30.1,"u":33.1},{"d":2327.38,"e":33.5,"u":36.9},{"d":2327.39,"e":42.0,"u":46.2},{"d":2327.40,"e":45.5,"u":56.0},{"d":2327.42,"e":46.1,"u":50.7},{"d":2327.45,"e":38.0,"u":41.8},{"d":2327.46,"e":50.0,"u":55.0},{"d":2327.48,"e":47.6,"u":64.2},{"d":2327.51,"e":45.5,"u":50.1},
      {"d":2327.53,"e":44.1,"u":48.5},{"d":2327.54,"e":33.9,"u":37.3},{"d":2327.56,"e":37.8,"u":41.6},{"d":2327.59,"e":45.8,"u":48.0},{"d":2327.61,"e":32.0,"u":35.2},{"d":2327.63,"e":29.6,"u":32.6},{"d":2327.64,"e":24.8,"u":27.3},{"d":2327.66,"e":19.3,"u":21.2},{"d":2327.68,"e":17.9,"u":19.7},{"d":2327.70,"e":21.6,"u":23.8},
      {"d":2327.72,"e":24.8,"u":27.3},{"d":2327.75,"e":19.6,"u":21.6},{"d":2327.76,"e":25.2,"u":27.7},{"d":2327.78,"e":27.7,"u":30.5},{"d":2327.80,"e":25.9,"u":28.5},{"d":2327.82,"e":21.0,"u":23.1},{"d":2327.85,"e":20.4,"u":22.4},{"d":2327.88,"e":24.2,"u":26.6},{"d":2327.90,"e":22.2,"u":24.4},{"d":2327.92,"e":34.9,"u":47.0},
      {"d":2327.96,"e":31.8,"u":38.0},{"d":2327.98,"e":29.2,"u":32.1},{"d":2328.01,"e":25.9,"u":28.5},{"d":2328.02,"e":21.8,"u":24.0},{"d":2328.04,"e":17.1,"u":18.8},{"d":2328.06,"e":10.7,"u":11.8},{"d":2328.10,"e":10.7,"u":12.5},{"d":2328.12,"e":13.3,"u":14.6},{"d":2328.14,"e":9.8,"u":10.8},{"d":2328.16,"e":13.5,"u":14.9},
      {"d":2328.18,"e":19.2,"u":21.1},{"d":2328.20,"e":24.7,"u":27.2},{"d":2328.22,"e":24.8,"u":27.3},{"d":2328.24,"e":32.0,"u":35.2},{"d":2328.26,"e":37.2,"u":40.9},{"d":2328.28,"e":45.6,"u":50.2},{"d":2328.29,"e":43.2,"u":47.5},{"d":2328.31,"e":42.3,"u":46.5},{"d":2328.34,"e":58.1,"u":59.3},{"d":2328.37,"e":38.9,"u":45.0},
      {"d":2328.38,"e":56.5,"u":58.5},{"d":2328.41,"e":49.7,"u":54.7},{"d":2328.42,"e":57.7,"u":58.8},{"d":2328.44,"e":50.9,"u":56.0},{"d":2328.46,"e":41.8,"u":46.0},{"d":2328.49,"e":46.9,"u":51.6},{"d":2328.51,"e":53.5,"u":56.7},{"d":2328.52,"e":49.0,"u":53.9},{"d":2328.54,"e":36.3,"u":39.9},{"d":2328.56,"e":23.1,"u":25.4},
      {"d":2328.59,"e":23.2,"u":25.5},{"d":2328.62,"e":19.9,"u":21.9},{"d":2328.64,"e":23.9,"u":26.3},{"d":2328.66,"e":27.6,"u":29.5},{"d":2328.68,"e":24.8,"u":27.3},{"d":2328.69,"e":21.3,"u":23.4},{"d":2328.74,"e":19.8,"u":21.8},{"d":2328.78,"e":20.9,"u":23.0},{"d":2328.84,"e":19.7,"u":21.7},{"d":2328.86,"e":22.5,"u":24.8},
      {"d":2328.88,"e":31.9,"u":35.1},{"d":2328.91,"e":24.8,"u":27.3},{"d":2328.94,"e":19.6,"u":21.6},{"d":2328.96,"e":24.3,"u":26.7},{"d":2329.00,"e":22.2,"u":24.4},{"d":2329.04,"e":23.5,"u":25.9},{"d":2329.06,"e":32.0,"u":33.6},{"d":2329.08,"e":24.7,"u":27.2},{"d":2329.10,"e":20.3,"u":22.3},{"d":2329.13,"e":21.0,"u":23.1},
      {"d":2329.14,"e":17.9,"u":19.7},{"d":2329.16,"e":14.2,"u":15.6},{"d":2329.18,"e":19.5,"u":21.5},{"d":2329.20,"e":20.5,"u":22.6},{"d":2329.22,"e":24.4,"u":26.8},{"d":2329.24,"e":20.3,"u":22.3},{"d":2329.26,"e":27.5,"u":30.3},{"d":2329.28,"e":26.5,"u":29.2},{"d":2329.30,"e":21.2,"u":23.3},{"d":2329.32,"e":19.5,"u":21.5},
      {"d":2329.36,"e":21.3,"u":23.4},{"d":2329.38,"e":27.2,"u":29.9},{"d":2329.40,"e":33.9,"u":37.3},{"d":2329.42,"e":45.3,"u":49.8},{"d":2329.44,"e":49.2,"u":54.1},{"d":2329.46,"e":57.8,"u":58.5},{"d":2329.48,"e":44.3,"u":48.7},{"d":2329.49,"e":44.7,"u":49.2},{"d":2329.52,"e":43.3,"u":47.6},{"d":2329.54,"e":36.1,"u":39.7},
      {"d":2329.55,"e":34.3,"u":37.7},{"d":2329.58,"e":31.8,"u":35.0},{"d":2329.60,"e":26.1,"u":28.7},{"d":2329.62,"e":30.4,"u":33.4},{"d":2329.63,"e":20.3,"u":22.3},{"d":2329.66,"e":19.1,"u":21.0},{"d":2329.68,"e":29.5,"u":32.5},{"d":2329.70,"e":22.9,"u":25.2},{"d":2329.72,"e":27.1,"u":29.8},{"d":2329.74,"e":34.7,"u":38.2},
      {"d":2329.76,"e":30.9,"u":34.0},{"d":2329.78,"e":35.0,"u":38.5},{"d":2329.80,"e":26.1,"u":28.7},{"d":2329.82,"e":23.1,"u":25.4},{"d":2329.84,"e":24.3,"u":26.7},{"d":2329.87,"e":21.3,"u":23.4},{"d":2329.90,"e":16.7,"u":18.4},{"d":2329.92,"e":19.4,"u":21.3},{"d":2329.95,"e":19.6,"u":21.6},{"d":2329.98,"e":25.1,"u":27.6},
      {"d":2330.00,"e":20.3,"u":22.3},{"d":2330.02,"e":18.7,"u":20.6},{"d":2330.04,"e":16.2,"u":17.8},{"d":2330.06,"e":17.4,"u":19.1},{"d":2330.10,"e":16.1,"u":17.7},{"d":2330.12,"e":22.0,"u":24.2},{"d":2330.14,"e":23.8,"u":26.2},{"d":2330.15,"e":20.0,"u":22.0},{"d":2330.18,"e":26.1,"u":28.7},{"d":2330.20,"e":32.1,"u":35.3},
      {"d":2330.22,"e":33.1,"u":36.4},{"d":2330.24,"e":36.5,"u":40.2},{"d":2330.26,"e":44.5,"u":46.0},{"d":2330.28,"e":43.3,"u":47.6},{"d":2330.30,"e":31.8,"u":35.0},{"d":2330.32,"e":25.2,"u":27.7},{"d":2330.33,"e":19.8,"u":21.8},{"d":2330.36,"e":18.3,"u":20.1},{"d":2330.38,"e":21.3,"u":23.4},{"d":2330.40,"e":24.3,"u":26.7},
      {"d":2330.43,"e":21.1,"u":23.2},{"d":2330.44,"e":24.2,"u":26.6},{"d":2330.46,"e":17.4,"u":19.1},{"d":2330.49,"e":18.8,"u":20.7},{"d":2330.53,"e":18.7,"u":20.6},{"d":2330.56,"e":16.5,"u":18.2},{"d":2330.58,"e":25.3,"u":27.8},{"d":2330.60,"e":32.8,"u":36.1},{"d":2330.62,"e":31.2,"u":34.3},{"d":2330.64,"e":37.6,"u":41.4},
      {"d":2330.66,"e":49.7,"u":51.0},{"d":2330.68,"e":47.7,"u":52.5},{"d":2330.70,"e":41.1,"u":45.2},{"d":2330.72,"e":30.2,"u":33.2},{"d":2330.74,"e":28.0,"u":30.8},{"d":2330.76,"e":16.5,"u":18.2},{"d":2330.78,"e":19.8,"u":21.8},{"d":2330.80,"e":24.0,"u":26.4},{"d":2330.82,"e":22.5,"u":24.8},{"d":2330.84,"e":18.4,"u":20.2},
      {"d":2330.86,"e":22.1,"u":24.3},{"d":2330.88,"e":29.0,"u":31.9},{"d":2330.90,"e":28.3,"u":31.1},{"d":2330.92,"e":29.3,"u":32.2},{"d":2330.94,"e":19.8,"u":21.8},{"d":2330.96,"e":26.0,"u":28.6},{"d":2330.98,"e":18.9,"u":20.8},{"d":2331.01,"e":22.1,"u":24.3},{"d":2331.02,"e":18.8,"u":20.7},{"d":2331.04,"e":22.9,"u":25.2},
      {"d":2331.06,"e":24.4,"u":26.8},{"d":2331.08,"e":31.4,"u":34.5},{"d":2331.10,"e":52.5,"u":55.0},{"d":2331.12,"e":53.7,"u":55.5},{"d":2331.14,"e":56.0,"u":57.5},{"d":2331.16,"e":44.0,"u":48.4},{"d":2331.18,"e":51.1,"u":54.0},{"d":2331.20,"e":48.5,"u":53.4},{"d":2331.23,"e":51.4,"u":57.4},{"d":2331.24,"e":40.5,"u":44.6},
      {"d":2331.26,"e":36.2,"u":39.8},{"d":2331.27,"e":48.3,"u":53.1},{"d":2331.29,"e":34.8,"u":38.3},{"d":2331.33,"e":33.9,"u":37.3},{"d":2331.35,"e":21.7,"u":23.9},{"d":2331.38,"e":20.0,"u":22.0},{"d":2331.40,"e":18.1,"u":19.9},{"d":2331.42,"e":19.3,"u":21.2},{"d":2331.46,"e":23.2,"u":25.5},{"d":2331.50,"e":23.7,"u":26.1},
      {"d":2331.52,"e":17.4,"u":19.1},{"d":2331.54,"e":23.7,"u":26.1},{"d":2331.59,"e":20.6,"u":22.7},{"d":2331.60,"e":23.4,"u":25.7},{"d":2331.64,"e":22.3,"u":24.5},{"d":2331.66,"e":27.5,"u":30.3},{"d":2331.68,"e":25.6,"u":28.2},{"d":2331.70,"e":19.6,"u":21.6},{"d":2331.71,"e":26.7,"u":29.4},{"d":2331.74,"e":28.4,"u":31.2},
      {"d":2331.76,"e":22.2,"u":24.4},{"d":2331.78,"e":17.9,"u":19.7},{"d":2331.82,"e":21.6,"u":23.8},{"d":2331.84,"e":19.2,"u":21.1},{"d":2331.86,"e":16.2,"u":17.8},{"d":2331.88,"e":18.9,"u":20.8},{"d":2331.90,"e":20.2,"u":22.2},{"d":2331.92,"e":27.9,"u":30.7},{"d":2331.94,"e":29.1,"u":32.0},{"d":2331.97,"e":20.8,"u":22.9},
      {"d":2332.00,"e":20.0,"u":22.0},{"d":2332.02,"e":18.7,"u":20.6},{"d":2332.04,"e":15.1,"u":16.6},{"d":2332.06,"e":16.9,"u":18.6},{"d":2332.08,"e":19.4,"u":21.3},{"d":2332.10,"e":17.7,"u":19.5},{"d":2332.14,"e":14.1,"u":15.5},{"d":2332.16,"e":14.2,"u":15.6},{"d":2332.18,"e":17.0,"u":18.7},{"d":2332.22,"e":17.6,"u":19.4},
      {"d":2332.24,"e":18.7,"u":20.6},{"d":2332.26,"e":17.6,"u":19.4},{"d":2332.28,"e":20.1,"u":22.1},{"d":2332.30,"e":20.5,"u":22.6},{"d":2332.32,"e":24.4,"u":26.8},{"d":2332.34,"e":27.8,"u":33.4},{"d":2332.36,"e":23.4,"u":25.7},{"d":2332.39,"e":21.1,"u":23.2},{"d":2332.40,"e":19.9,"u":21.9},{"d":2332.44,"e":18.1,"u":19.9},
      {"d":2332.46,"e":16.5,"u":18.2},{"d":2332.48,"e":15.0,"u":16.5},{"d":2332.51,"e":13.7,"u":15.1},{"d":2332.53,"e":15.7,"u":17.3},{"d":2332.55,"e":16.3,"u":17.9},{"d":2332.59,"e":13.9,"u":15.3},{"d":2332.62,"e":15.7,"u":17.3},{"d":2332.66,"e":14.2,"u":15.6},{"d":2332.68,"e":17.7,"u":19.5},{"d":2332.70,"e":14.5,"u":16.0},
      {"d":2332.72,"e":18.9,"u":20.8},{"d":2332.74,"e":21.2,"u":23.3},{"d":2332.78,"e":19.5,"u":21.5},{"d":2332.80,"e":29.3,"u":32.2},{"d":2332.82,"e":43.7,"u":48.1},{"d":2332.84,"e":46.9,"u":51.6},{"d":2332.86,"e":55.5,"u":57.0},{"d":2332.88,"e":51.2,"u":56.3},{"d":2332.90,"e":35.4,"u":38.9},{"d":2332.92,"e":28.4,"u":31.2},
      {"d":2332.94,"e":25.6,"u":28.2},{"d":2332.96,"e":22.5,"u":24.8},{"d":2332.98,"e":18.6,"u":20.5},{"d":2333.00,"e":15.9,"u":17.5},{"d":2333.02,"e":16.9,"u":18.6},{"d":2333.04,"e":16.3,"u":17.9},{"d":2333.07,"e":17.4,"u":19.1},{"d":2333.09,"e":23.1,"u":25.4},{"d":2333.10,"e":27.6,"u":30.4},{"d":2333.12,"e":32.8,"u":36.1},
      {"d":2333.14,"e":59.6,"u":61.6},{"d":2333.16,"e":49.7,"u":54.7},{"d":2333.18,"e":59.3,"u":61.0},{"d":2333.20,"e":40.8,"u":44.9},{"d":2333.23,"e":35.0,"u":38.5},{"d":2333.24,"e":33.3,"u":36.6},{"d":2333.26,"e":23.4,"u":25.7},{"d":2333.29,"e":28.7,"u":31.6},{"d":2333.30,"e":38.8,"u":42.7},{"d":2333.32,"e":40.3,"u":44.3},
      {"d":2333.34,"e":45.9,"u":50.5},{"d":2333.36,"e":45.2,"u":49.7},{"d":2333.40,"e":48.9,"u":54.8},{"d":2333.42,"e":42.9,"u":47.2},{"d":2333.44,"e":39.6,"u":43.6},{"d":2333.46,"e":31.4,"u":34.5},{"d":2333.48,"e":42.2,"u":46.4},{"d":2333.50,"e":52.8,"u":56.0},{"d":2333.52,"e":55.2,"u":58.0},{"d":2333.54,"e":56.0,"u":59.0},
      {"d":2333.56,"e":60.4,"u":62.0},{"d":2333.58,"e":52.0,"u":57.2},{"d":2333.61,"e":50.0,"u":55.0},{"d":2333.62,"e":45.0,"u":49.5},{"d":2333.64,"e":30.7,"u":33.8},{"d":2333.67,"e":30.7,"u":33.8},{"d":2333.68,"e":26.6,"u":29.3},{"d":2333.70,"e":21.4,"u":23.5},{"d":2333.72,"e":24.8,"u":27.3},{"d":2333.74,"e":27.4,"u":30.1},
      {"d":2333.76,"e":19.4,"u":21.3},{"d":2333.78,"e":24.2,"u":26.6},{"d":2333.81,"e":16.4,"u":18.0},{"d":2333.83,"e":19.5,"u":21.5},{"d":2333.84,"e":19.8,"u":21.8},{"d":2333.86,"e":23.8,"u":26.2},{"d":2333.90,"e":21.7,"u":23.9},{"d":2333.92,"e":33.0,"u":36.3},{"d":2333.93,"e":29.8,"u":32.8},{"d":2333.95,"e":36.0,"u":39.6},
      {"d":2333.99,"e":29.8,"u":32.8},{"d":2334.00,"e":41.8,"u":46.0},{"d":2334.02,"e":34.4,"u":37.8},{"d":2334.04,"e":37.1,"u":40.8},{"d":2334.06,"e":35.0,"u":38.5},{"d":2334.08,"e":48.6,"u":53.5},{"d":2334.10,"e":50.6,"u":55.7},{"d":2334.12,"e":52.0,"u":54.0},{"d":2334.14,"e":45.1,"u":49.6},{"d":2334.16,"e":46.4,"u":51.0},
      {"d":2334.18,"e":50.0,"u":55.0},{"d":2334.20,"e":46.6,"u":51.3},{"d":2334.22,"e":41.2,"u":45.3},{"d":2334.24,"e":48.3,"u":53.1},{"d":2334.26,"e":52.6,"u":54.5},{"d":2334.30,"e":48.3,"u":53.1},{"d":2334.32,"e":41.5,"u":45.7},{"d":2334.34,"e":35.5,"u":39.1},{"d":2334.36,"e":34.6,"u":38.1},{"d":2334.38,"e":26.8,"u":29.5},
      {"d":2334.40,"e":15.8,"u":17.4},{"d":2334.43,"e":15.9,"u":17.5},{"d":2334.44,"e":19.8,"u":21.8},{"d":2334.46,"e":24.9,"u":27.4},{"d":2334.49,"e":17.0,"u":18.7},{"d":2334.50,"e":20.1,"u":22.1},{"d":2334.52,"e":35.0,"u":38.5},{"d":2334.54,"e":32.6,"u":35.9},{"d":2334.56,"e":52.4,"u":54.0},{"d":2334.58,"e":39.3,"u":43.2},
      {"d":2334.60,"e":43.5,"u":47.9},{"d":2334.62,"e":40.6,"u":44.7},{"d":2334.64,"e":59.5,"u":61.0},{"d":2334.66,"e":47.9,"u":52.7},{"d":2334.68,"e":55.0,"u":58.0},{"d":2334.70,"e":52.0,"u":56.0},{"d":2334.72,"e":60.5,"u":62.0},{"d":2334.74,"e":49.1,"u":54.0},{"d":2334.76,"e":41.3,"u":45.4},{"d":2334.78,"e":50.0,"u":55.0},
      {"d":2334.80,"e":44.3,"u":48.7},{"d":2334.83,"e":38.4,"u":42.2},{"d":2334.85,"e":41.6,"u":45.8},{"d":2334.88,"e":52.6,"u":57.8},{"d":2334.90,"e":44.3,"u":48.7},{"d":2334.92,"e":32.3,"u":35.5},{"d":2334.94,"e":33.3,"u":36.6},{"d":2334.96,"e":35.9,"u":39.5},{"d":2334.98,"e":30.8,"u":33.9},{"d":2335.00,"e":42.3,"u":46.5},
      {"d":2335.02,"e":31.3,"u":34.4},{"d":2335.06,"e":26.1,"u":28.7},{"d":2335.08,"e":15.9,"u":17.5},{"d":2335.10,"e":15.1,"u":16.6},{"d":2335.12,"e":29.2,"u":32.1},{"d":2335.14,"e":28.9,"u":31.8},{"d":2335.16,"e":37.1,"u":40.8},{"d":2335.18,"e":39.6,"u":43.6},{"d":2335.21,"e":39.5,"u":50.0},{"d":2335.22,"e":51.6,"u":62.5},
      {"d":2335.24,"e":50.8,"u":55.9},{"d":2335.26,"e":44.7,"u":49.2},{"d":2335.28,"e":30.7,"u":33.8},{"d":2335.30,"e":35.6,"u":39.2},{"d":2335.32,"e":25.3,"u":27.8},{"d":2335.35,"e":28.0,"u":30.8},{"d":2335.37,"e":29.9,"u":32.9},{"d":2335.38,"e":24.8,"u":27.3},{"d":2335.40,"e":27.3,"u":30.0},{"d":2335.41,"e":21.6,"u":23.8},
      {"d":2335.44,"e":26.4,"u":29.0},{"d":2335.45,"e":21.6,"u":23.8},{"d":2335.48,"e":26.9,"u":29.6},{"d":2335.50,"e":24.4,"u":26.8},{"d":2335.52,"e":16.6,"u":18.3},{"d":2335.54,"e":22.3,"u":24.5},{"d":2335.56,"e":18.9,"u":20.8},{"d":2335.60,"e":17.7,"u":19.5},{"d":2335.62,"e":23.7,"u":26.1},{"d":2335.64,"e":19.1,"u":21.0},
      {"d":2335.66,"e":27.5,"u":30.3},{"d":2335.69,"e":21.7,"u":23.9},{"d":2335.70,"e":24.8,"u":27.3},{"d":2335.72,"e":27.8,"u":30.6},{"d":2335.74,"e":18.4,"u":20.2},{"d":2335.77,"e":25.9,"u":28.5},{"d":2335.80,"e":21.7,"u":23.9},{"d":2335.82,"e":19.1,"u":21.0},{"d":2335.84,"e":16.4,"u":18.0},{"d":2335.88,"e":18.7,"u":20.6},
      {"d":2335.92,"e":15.4,"u":16.9},{"d":2335.94,"e":18.1,"u":19.9},{"d":2335.97,"e":20.1,"u":22.1},{"d":2336.02,"e":26.8,"u":29.5},{"d":2336.04,"e":21.3,"u":23.4},{"d":2336.06,"e":18.5,"u":20.4},{"d":2336.10,"e":19.5,"u":21.5},{"d":2336.14,"e":20.6,"u":22.7},{"d":2336.16,"e":17.3,"u":19.0},{"d":2336.20,"e":14.9,"u":16.4},
      {"d":2336.22,"e":21.0,"u":23.1},{"d":2336.25,"e":15.4,"u":16.9},{"d":2336.28,"e":19.1,"u":21.0},{"d":2336.31,"e":15.9,"u":17.5},{"d":2336.32,"e":24.0,"u":26.4},{"d":2336.34,"e":46.3,"u":50.9},{"d":2336.36,"e":48.1,"u":52.9},{"d":2336.38,"e":41.0,"u":45.1},{"d":2336.40,"e":46.9,"u":51.6},{"d":2336.42,"e":54.1,"u":55.0},
      {"d":2336.43,"e":35.7,"u":39.3},{"d":2336.45,"e":36.8,"u":40.5},{"d":2336.48,"e":24.9,"u":27.4},{"d":2336.50,"e":19.4,"u":21.3},{"d":2336.52,"e":28.6,"u":31.5},{"d":2336.54,"e":34.0,"u":37.4},{"d":2336.56,"e":37.6,"u":41.4},{"d":2336.58,"e":40.8,"u":44.9},{"d":2336.60,"e":46.7,"u":49.0},{"d":2336.62,"e":34.9,"u":38.4},
      {"d":2336.64,"e":30.7,"u":33.8},{"d":2336.66,"e":22.3,"u":24.5},{"d":2336.68,"e":20.9,"u":23.0},{"d":2336.70,"e":19.6,"u":21.6},{"d":2336.73,"e":22.3,"u":24.5},{"d":2336.74,"e":37.7,"u":41.5},{"d":2336.76,"e":38.7,"u":42.6},{"d":2336.77,"e":36.1,"u":39.7},{"d":2336.80,"e":46.8,"u":51.5},{"d":2336.82,"e":49.5,"u":54.4},
      {"d":2336.85,"e":30.4,"u":33.4},{"d":2336.86,"e":24.8,"u":27.3},{"d":2336.88,"e":27.1,"u":29.8},{"d":2336.90,"e":14.0,"u":15.4},{"d":2336.92,"e":11.0,"u":12.1},{"d":2336.94,"e":12.1,"u":13.3},{"d":2336.96,"e":13.3,"u":14.6},{"d":2336.98,"e":15.4,"u":16.9},{"d":2337.00,"e":13.9,"u":15.3},{"d":2337.02,"e":16.6,"u":18.3},
      {"d":2337.06,"e":17.0,"u":18.7},{"d":2337.09,"e":20.7,"u":22.8},{"d":2337.10,"e":23.4,"u":25.7},{"d":2337.12,"e":21.3,"u":23.4},{"d":2337.15,"e":15.9,"u":17.5},{"d":2337.17,"e":18.1,"u":19.9},{"d":2337.18,"e":17.1,"u":18.8},{"d":2337.22,"e":14.9,"u":16.4},{"d":2337.23,"e":20.3,"u":22.3},{"d":2337.26,"e":15.4,"u":16.9},
      {"d":2337.27,"e":18.7,"u":20.6},{"d":2337.29,"e":20.4,"u":22.4},{"d":2337.32,"e":21.4,"u":23.5},{"d":2337.34,"e":15.3,"u":16.8},{"d":2337.36,"e":14.5,"u":16.0},{"d":2337.38,"e":16.9,"u":18.6},{"d":2337.41,"e":18.4,"u":20.2},{"d":2337.44,"e":20.3,"u":22.3},{"d":2337.47,"e":20.3,"u":22.3},{"d":2337.48,"e":18.3,"u":20.1},
      {"d":2337.50,"e":16.5,"u":18.2},{"d":2337.52,"e":14.5,"u":16.0},{"d":2337.54,"e":16.5,"u":18.2},{"d":2337.56,"e":11.9,"u":13.1},{"d":2337.60,"e":10.8,"u":11.9},{"d":2337.62,"e":10.9,"u":12.0},{"d":2337.64,"e":13.3,"u":14.6},{"d":2337.66,"e":17.2,"u":18.9},{"d":2337.70,"e":20.5,"u":22.6},{"d":2337.72,"e":17.4,"u":19.1},
      {"d":2337.73,"e":31.1,"u":34.2},{"d":2337.76,"e":22.5,"u":24.8},{"d":2337.78,"e":29.4,"u":32.3},{"d":2337.80,"e":35.1,"u":38.6},{"d":2337.82,"e":39.6,"u":42.1},{"d":2337.84,"e":25.1,"u":27.6},{"d":2337.86,"e":22.4,"u":24.6},{"d":2337.88,"e":19.1,"u":21.0},{"d":2337.91,"e":13.3,"u":14.6},{"d":2337.92,"e":26.4,"u":29.0},
      {"d":2337.94,"e":24.5,"u":27.0},{"d":2337.96,"e":33.1,"u":36.4},{"d":2337.98,"e":35.1,"u":38.6},{"d":2338.00,"e":40.1,"u":48.0},{"d":2338.02,"e":38.5,"u":52.0},{"d":2338.04,"e":47.9,"u":57.4},{"d":2338.06,"e":30.7,"u":33.8},{"d":2338.08,"e":34.9,"u":38.4},{"d":2338.10,"e":25.1,"u":27.6},{"d":2338.12,"e":26.7,"u":29.4},
      {"d":2338.14,"e":23.6,"u":26.0},{"d":2338.16,"e":18.7,"u":20.6},{"d":2338.18,"e":21.2,"u":23.3},{"d":2338.20,"e":16.7,"u":18.4},{"d":2338.23,"e":20.3,"u":22.3},{"d":2338.25,"e":37.4,"u":41.1},{"d":2338.27,"e":43.4,"u":48.5},{"d":2338.28,"e":33.0,"u":36.3},{"d":2338.30,"e":39.2,"u":43.1},{"d":2338.32,"e":38.0,"u":41.8},
      {"d":2338.35,"e":36.8,"u":40.5},{"d":2338.39,"e":37.9,"u":41.7},{"d":2338.41,"e":32.4,"u":35.6},{"d":2338.42,"e":27.6,"u":30.4},{"d":2338.45,"e":28.5,"u":31.4},{"d":2338.46,"e":41.3,"u":45.0},{"d":2338.48,"e":35.6,"u":39.2},{"d":2338.50,"e":37.7,"u":41.5},{"d":2338.52,"e":33.1,"u":36.4},{"d":2338.54,"e":30.1,"u":33.1},
      {"d":2338.56,"e":26.2,"u":28.8},{"d":2338.58,"e":17.8,"u":19.6},{"d":2338.60,"e":11.6,"u":12.8},{"d":2338.63,"e":14.7,"u":16.2},{"d":2338.64,"e":20.9,"u":23.0},{"d":2338.66,"e":18.1,"u":19.9},{"d":2338.68,"e":25.4,"u":27.9},{"d":2338.70,"e":30.6,"u":33.7},{"d":2338.72,"e":26.1,"u":28.7},{"d":2338.74,"e":34.9,"u":38.4},
      {"d":2338.76,"e":36.9,"u":40.6},{"d":2338.78,"e":35.7,"u":39.3},{"d":2338.80,"e":44.9,"u":47.0},{"d":2338.82,"e":31.6,"u":34.8},{"d":2338.84,"e":32.4,"u":35.6},{"d":2338.85,"e":20.5,"u":22.6},{"d":2338.87,"e":20.8,"u":22.9},{"d":2338.90,"e":15.1,"u":16.6},{"d":2338.92,"e":19.5,"u":21.5},{"d":2338.94,"e":18.9,"u":20.8},
      {"d":2338.96,"e":28.7,"u":31.6},{"d":2338.98,"e":34.3,"u":37.7},{"d":2339.00,"e":36.0,"u":39.6},{"d":2339.02,"e":38.0,"u":41.8},{"d":2339.04,"e":26.6,"u":29.3},{"d":2339.06,"e":22.9,"u":25.2},{"d":2339.08,"e":22.8,"u":25.1},{"d":2339.09,"e":15.7,"u":17.3},{"d":2339.12,"e":14.7,"u":16.2},{"d":2339.14,"e":12.5,"u":13.8},
      {"d":2339.16,"e":12.9,"u":14.2},{"d":2339.18,"e":16.4,"u":18.0},{"d":2339.21,"e":17.1,"u":18.8},{"d":2339.22,"e":24.2,"u":26.6},{"d":2339.24,"e":34.8,"u":38.3},{"d":2339.27,"e":35.5,"u":39.1},{"d":2339.28,"e":39.9,"u":43.9},{"d":2339.30,"e":41.5,"u":52.1},{"d":2339.32,"e":36.5,"u":40.2},{"d":2339.34,"e":37.3,"u":41.0},
      {"d":2339.36,"e":29.9,"u":32.9},{"d":2339.38,"e":22.6,"u":24.9},{"d":2339.40,"e":23.4,"u":25.7},{"d":2339.42,"e":24.8,"u":27.3},{"d":2339.44,"e":21.6,"u":23.8},{"d":2339.46,"e":21.7,"u":23.9},{"d":2339.48,"e":18.9,"u":20.8},{"d":2339.50,"e":16.1,"u":17.7},{"d":2339.52,"e":21.2,"u":23.3},{"d":2339.54,"e":26.1,"u":28.7},
      {"d":2339.56,"e":32.1,"u":35.3},{"d":2339.59,"e":28.7,"u":31.6},{"d":2339.61,"e":33.8,"u":37.2},{"d":2339.64,"e":36.8,"u":40.5},{"d":2339.66,"e":45.9,"u":52.0},{"d":2339.68,"e":34.6,"u":38.1},{"d":2339.70,"e":49.9,"u":54.4},{"d":2339.72,"e":47.3,"u":52.0},{"d":2339.74,"e":45.5,"u":50.1},{"d":2339.76,"e":31.7,"u":34.9},
      {"d":2339.78,"e":33.0,"u":36.3},{"d":2339.81,"e":20.3,"u":22.3},{"d":2339.83,"e":23.9,"u":26.3},{"d":2339.84,"e":18.6,"u":20.5},{"d":2339.86,"e":14.8,"u":16.3},{"d":2339.87,"e":15.5,"u":17.1},{"d":2339.90,"e":12.3,"u":13.5},{"d":2339.93,"e":12.2,"u":13.4},{"d":2339.94,"e":21.0,"u":23.1},{"d":2339.97,"e":16.9,"u":18.6},
      {"d":2339.98,"e":27.0,"u":29.7},{"d":2340.00,"e":19.1,"u":21.0},{"d":2340.02,"e":17.9,"u":19.7},{"d":2340.04,"e":19.8,"u":21.8},{"d":2340.06,"e":18.1,"u":19.9},{"d":2340.08,"e":13.2,"u":14.5},{"d":2340.09,"e":9.3,"u":10.2},{"d":2340.12,"e":9.8,"u":10.8},{"d":2340.16,"e":12.2,"u":13.4},{"d":2340.19,"e":8.8,"u":9.7},
      {"d":2340.21,"e":8.2,"u":9.0},{"d":2340.23,"e":14.2,"u":15.6},{"d":2340.27,"e":16.1,"u":17.7},{"d":2340.28,"e":15.3,"u":16.8},{"d":2340.30,"e":16.9,"u":18.6},{"d":2340.33,"e":11.9,"u":13.1},{"d":2340.34,"e":15.2,"u":16.7},{"d":2340.36,"e":14.5,"u":16.0},{"d":2340.41,"e":12.1,"u":13.3},{"d":2340.42,"e":16.2,"u":17.8},
      {"d":2340.45,"e":17.0,"u":18.7},{"d":2340.47,"e":19.1,"u":21.0},{"d":2340.49,"e":22.0,"u":24.2},{"d":2340.51,"e":22.3,"u":24.5},{"d":2340.53,"e":28.2,"u":31.0},{"d":2340.55,"e":29.9,"u":32.9},{"d":2340.57,"e":33.6,"u":37.0},{"d":2340.59,"e":34.1,"u":37.5},{"d":2340.61,"e":36.5,"u":45.5},{"d":2340.64,"e":41.3,"u":45.4},
      {"d":2340.66,"e":33.0,"u":36.3},{"d":2340.69,"e":29.2,"u":32.1},{"d":2340.71,"e":24.8,"u":27.3},{"d":2340.73,"e":27.3,"u":30.0},{"d":2340.74,"e":33.2,"u":36.5},{"d":2340.77,"e":37.3,"u":41.0},{"d":2340.78,"e":45.7,"u":50.3},{"d":2340.80,"e":48.2,"u":53.0},{"d":2340.83,"e":38.8,"u":42.7},{"d":2340.85,"e":30.9,"u":34.0},
      {"d":2340.87,"e":24.2,"u":26.6},{"d":2340.88,"e":20.9,"u":23.0},{"d":2340.91,"e":13.8,"u":15.2}
    ]
  },
  "hconcat": [
    {
      "width": 1208,
      "height": 2913,
      "data": {"name": "va"},
      "title": {"text": "(a) vertical bedding direction", "orient": "bottom", "frame": "bounds", "offset": 83, "fontSize": 61, "fontWeight": "normal", "font": "DejaVu Serif", "color": "black"},
      "encoding": {
        "x": {
          "field": "e", "type": "quantitative",
          "scale": {"domain": [2.5, 70], "nice": false, "zero": false},
          "axis": {
            "orient": "top", "title": "Elastic modulus/GPa", "tickCount": 100, "tickMinStep": 0.5,
            "values": [2.5,5,7.5,10,12.5,15,17.5,20,22.5,25,27.5,30,32.5,35,37.5,40,42.5,45,47.5,50,52.5,55,57.5,60,62.5,65,67.5,70],
            "labelExpr": "datum.value % 5 === 0 ? format(datum.value, 'd') : ''",
            "labelOverlap": false, "labelFlush": false, "labelPadding": 14,
            "labelFontSize": 40, "labelFontWeight": "bold",
            "titleFontSize": 48, "titleFontWeight": "bold", "titlePadding": 24,
            "tickSize": {"condition": {"test": "datum.value % 5 === 0", "value": 18}, "value": 10},
            "tickWidth": 4, "tickColor": "black", "domain": false,
            "grid": true, "gridColor": "#aaaaaa", "gridWidth": 1.5, "gridDash": [10, 8],
            "gridOpacity": {"condition": {"test": "datum.value % 5 === 0", "value": 1}, "value": 0}
          }
        },
        "y": {
          "field": "d", "type": "quantitative",
          "scale": {"domain": [2324.5, 2342], "reverse": true, "nice": false, "zero": false},
          "axis": {
            "orient": "left", "title": "Depth/m", "tickCount": 200, "tickMinStep": 0.1,
            "values": [2324.6,2324.8,2325,2325.2,2325.4,2325.6,2325.8,2326,2326.2,2326.4,2326.6,2326.8,2327,2327.2,2327.4,2327.6,2327.8,2328,2328.2,2328.4,2328.6,2328.8,2329,2329.2,2329.4,2329.6,2329.8,2330,2330.2,2330.4,2330.6,2330.8,2331,2331.2,2331.4,2331.6,2331.8,2332,2332.2,2332.4,2332.6,2332.8,2333,2333.2,2333.4,2333.6,2333.8,2334,2334.2,2334.4,2334.6,2334.8,2335,2335.2,2335.4,2335.6,2335.8,2336,2336.2,2336.4,2336.6,2336.8,2337,2337.2,2337.4,2337.6,2337.8,2338,2338.2,2338.4,2338.6,2338.8,2339,2339.2,2339.4,2339.6,2339.8,2340,2340.2,2340.4,2340.6,2340.8,2341,2341.2,2341.4,2341.6,2341.8,2342],
            "labelExpr": "datum.value % 1 === 0 ? format(datum.value, 'd') : ''",
            "labelOverlap": false, "labelFlush": false, "labelPadding": 8,
            "labelFontSize": 40, "labelFontWeight": "bold",
            "titleFontSize": 46, "titleFontWeight": "bold", "titlePadding": 14,
            "tickSize": {"condition": {"test": "datum.value % 1 === 0", "value": 18}, "value": 10},
            "tickWidth": 4, "tickColor": "black", "domain": false,
            "grid": true,
            "gridColor": {"condition": {"test": "datum.value % 1 === 0", "value": "#9a9a9a"}, "value": "#d2d2d2"},
            "gridWidth": {"condition": {"test": "datum.value % 1 === 0", "value": 3}, "value": 2},
            "gridDash": {"condition": {"test": "datum.value % 1 === 0", "value": [12, 8]}, "value": [3, 3]}
          }
        }
      },
      "layer": [
        {"mark": {"type": "line", "color": "#333333", "strokeWidth": 2.2}, "encoding": {"order": {"field": "d", "type": "quantitative"}}},
        {
          "mark": {"type": "square", "size": 130, "opacity": 1},
          "encoding": {
            "color": {
              "datum": "Vertical bedding", "type": "nominal",
              "scale": {"range": ["#0000ff"]},
              "legend": {
                "orient": "top-right", "offset": 2, "padding": 0, "title": null, "labelLimit": 800,
                "labelFont": "Liberation Serif", "labelFontSize": 44, "labelFontWeight": "bold", "labelColor": "black", "labelOffset": 10,
                "symbolType": "M-1,0H1M-0.13,-0.13H0.13V0.13H-0.13Z", "symbolSize": 10000,
                "symbolStrokeColor": "#444444", "symbolStrokeWidth": 2.5, "symbolFillColor": "#0000ff",
                "encode": {"symbols": {
                  "enter": {"stroke": {"value": "#444444"}, "strokeWidth": {"value": 2.5}},
                  "update": {"fill": {"value": "#0000ff"}, "stroke": {"value": "#444444"}, "strokeWidth": {"value": 2.5}, "opacity": {"value": 1}}
                }}
              }
            }
          }
        }
      ]
    },
    {
      "width": 1208,
      "height": 2913,
      "data": {"name": "vb"},
      "title": {"text": "(b) parallel bedding direction", "orient": "bottom", "frame": "bounds", "offset": 83, "fontSize": 61, "fontWeight": "normal", "font": "DejaVu Serif", "color": "black"},
      "encoding": {
        "x": {
          "field": "e", "type": "quantitative",
          "scale": {"domain": [2.5, 70], "nice": false, "zero": false},
          "axis": {
            "orient": "top", "title": "Elastic modulus/GPa", "tickCount": 100, "tickMinStep": 0.5,
            "values": [2.5,5,7.5,10,12.5,15,17.5,20,22.5,25,27.5,30,32.5,35,37.5,40,42.5,45,47.5,50,52.5,55,57.5,60,62.5,65,67.5,70],
            "labelExpr": "datum.value % 5 === 0 ? format(datum.value, 'd') : ''",
            "labelOverlap": false, "labelFlush": false, "labelPadding": 14,
            "labelFontSize": 40, "labelFontWeight": "bold",
            "titleFontSize": 48, "titleFontWeight": "bold", "titlePadding": 24,
            "tickSize": {"condition": {"test": "datum.value % 5 === 0", "value": 18}, "value": 10},
            "tickWidth": 4, "tickColor": "black", "domain": false,
            "grid": true, "gridColor": "#aaaaaa", "gridWidth": 1.5, "gridDash": [10, 8],
            "gridOpacity": {"condition": {"test": "datum.value % 5 === 0", "value": 1}, "value": 0}
          }
        },
        "y": {
          "field": "d", "type": "quantitative",
          "scale": {"domain": [2324.5, 2342], "reverse": true, "nice": false, "zero": false},
          "axis": {
            "orient": "left", "title": "Depth/m", "tickCount": 200, "tickMinStep": 0.1,
            "values": [2324.6,2324.8,2325,2325.2,2325.4,2325.6,2325.8,2326,2326.2,2326.4,2326.6,2326.8,2327,2327.2,2327.4,2327.6,2327.8,2328,2328.2,2328.4,2328.6,2328.8,2329,2329.2,2329.4,2329.6,2329.8,2330,2330.2,2330.4,2330.6,2330.8,2331,2331.2,2331.4,2331.6,2331.8,2332,2332.2,2332.4,2332.6,2332.8,2333,2333.2,2333.4,2333.6,2333.8,2334,2334.2,2334.4,2334.6,2334.8,2335,2335.2,2335.4,2335.6,2335.8,2336,2336.2,2336.4,2336.6,2336.8,2337,2337.2,2337.4,2337.6,2337.8,2338,2338.2,2338.4,2338.6,2338.8,2339,2339.2,2339.4,2339.6,2339.8,2340,2340.2,2340.4,2340.6,2340.8,2341,2341.2,2341.4,2341.6,2341.8,2342],
            "labelExpr": "datum.value % 1 === 0 ? format(datum.value, 'd') : ''",
            "labelOverlap": false, "labelFlush": false, "labelPadding": 8,
            "labelFontSize": 40, "labelFontWeight": "bold",
            "titleFontSize": 46, "titleFontWeight": "bold", "titlePadding": 14,
            "tickSize": {"condition": {"test": "datum.value % 1 === 0", "value": 18}, "value": 10},
            "tickWidth": 4, "tickColor": "black", "domain": false,
            "grid": true,
            "gridColor": {"condition": {"test": "datum.value % 1 === 0", "value": "#9a9a9a"}, "value": "#d2d2d2"},
            "gridWidth": {"condition": {"test": "datum.value % 1 === 0", "value": 3}, "value": 2},
            "gridDash": {"condition": {"test": "datum.value % 1 === 0", "value": [12, 8]}, "value": [3, 3]}
          }
        }
      },
      "layer": [
        {
          "mark": {"type": "area", "orient": "horizontal", "fillOpacity": 0.8},
          "encoding": {
            "x2": {"field": "u"},
            "color": {
              "datum": "Parallel bedding", "type": "nominal",
              "scale": {"range": ["#ff9090"]},
              "legend": {
                "orient": "top-right", "offset": 2, "padding": 0, "title": null, "labelLimit": 800,
                "labelFont": "Liberation Serif", "labelFontSize": 44, "labelFontWeight": "bold", "labelColor": "black", "labelOffset": 10,
                "symbolType": "M-1,-0.5H1V0.5H-1Z", "symbolSize": 10000,
                "symbolStrokeColor": "#ff2020", "symbolStrokeWidth": 3, "symbolFillColor": "#ff9a9a",
                "encode": {"symbols": {
                  "enter": {"stroke": {"value": "#ff2020"}, "strokeWidth": {"value": 3}},
                  "update": {"fill": {"value": "#ff9a9a"}, "stroke": {"value": "#ff2020"}, "strokeWidth": {"value": 3}, "opacity": {"value": 1}, "fillOpacity": {"value": 1}}
                }}
              }
            }
          }
        },
        {"mark": {"type": "line", "color": "#ff0000", "strokeWidth": 2.5}, "encoding": {"order": {"field": "d", "type": "quantitative"}}},
        {"mark": {"type": "square", "size": 130, "color": "#ff0000", "opacity": 1}}
      ]
    }
  ],
  "config": {
    "view": {"stroke": "black", "strokeWidth": 6},
    "font": "Liberation Serif",
    "axis": {"labelFont": "Liberation Serif", "titleFont": "Liberation Serif", "labelColor": "black", "titleColor": "black"}
  }
}
